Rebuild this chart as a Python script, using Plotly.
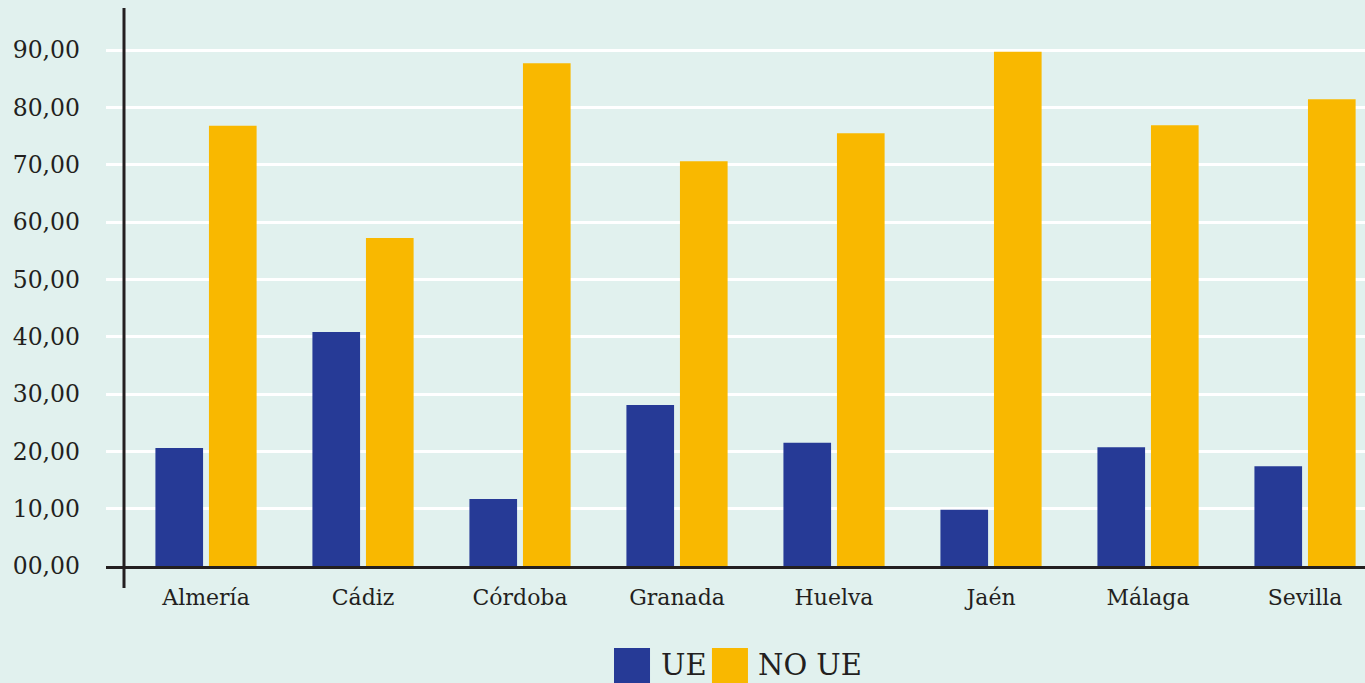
import plotly.graph_objects as go

provincias = ["Almería", "Cádiz", "Córdoba", "Granada", "Huelva", "Jaén", "Málaga", "Sevilla"]
ue = [20.6, 40.8, 11.7, 28.1, 21.5, 9.8, 20.7, 17.4]
no_ue = [76.8, 57.2, 87.7, 70.6, 75.5, 89.7, 76.9, 81.4]
tick_vals = [0, 10, 20, 30, 40, 50, 60, 70, 80, 90]
tick_text = ["00,00", "10,00", "20,00", "30,00", "40,00", "50,00", "60,00", "70,00", "80,00", "90,00"]
series_names = ["UE", "NO UE"]

BLUE = "#263a96"
YELLOW = "#f9b800"
BG = "#e1f1ee"
INK = "#231f20"
FONT = "DejaVu Serif"

fig = go.Figure()
fig.add_trace(go.Bar(x=provincias, y=ue, name=series_names[0], marker=dict(color=BLUE, line=dict(width=0))))
fig.add_trace(go.Bar(x=provincias, y=no_ue, name=series_names[1], marker=dict(color=YELLOW, line=dict(width=0))))

fig.update_layout(
    width=1365, height=683,
    paper_bgcolor=BG, plot_bgcolor=BG,
    margin=dict(l=106, r=0, t=8, b=117),
    barmode="group", bargap=0.318, bargroupgap=0.11,
    showlegend=False,
    font=dict(family=FONT, color=INK, size=22),
)
fig.update_xaxes(
    type="category", range=[-0.637, 7.382],
    showline=True, linecolor=INK, linewidth=3,
    showgrid=False, ticks="", ticklabelstandoff=10,
    tickfont=dict(family=FONT, size=22, color=INK),
)
fig.update_yaxes(
    range=[0, 97.33], tickvals=tick_vals, ticktext=tick_text,
    showgrid=True, gridcolor="#ffffff", gridwidth=2.5,
    zeroline=False, showline=False, ticks="", ticklabelstandoff=25,
    tickfont=dict(family=FONT, size=23.5, color=INK),
)
# vertical axis line
fig.add_shape(type="line", xref="paper", yref="paper", x0=0.0143, x1=0.0143, y0=-0.0394, y1=1.0,
              line=dict(color=INK, width=3))
# legend drawn manually
legend_items = [(series_names[0], BLUE, 0.4035, 0.4321, 0.4390),
                (series_names[1], YELLOW, 0.4813, 0.5099, 0.5165)]
for name, col, x0, x1, tx in legend_items:
    fig.add_shape(type="rect", xref="paper", yref="paper", x0=x0, x1=x1, y0=-0.215, y1=-0.147,
                  fillcolor=col, line=dict(width=0))
    fig.add_annotation(xref="paper", yref="paper", x=tx, y=-0.178, text=name, showarrow=False,
                       xanchor="left", yanchor="middle", font=dict(family=FONT, size=29, color=INK))

fig.write_html("out.html", config={"displayModeBar": False},
               post_script="document.body.style.margin='0';document.body.style.overflow='hidden';")
